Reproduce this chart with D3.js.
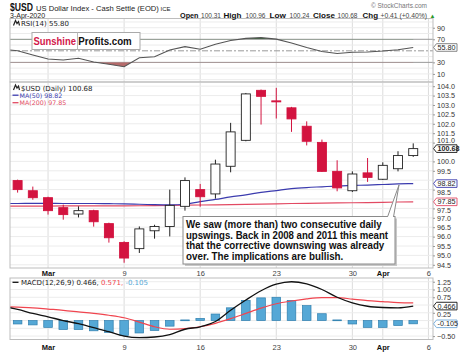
<!DOCTYPE html>
<html>
<head>
<meta charset="utf-8">
<script src="https://cdn.jsdelivr.net/npm/d3@7"></script>
<style>
  body { margin: 0; background: #fff; }
  svg text { font-family: "Liberation Sans", Arial, sans-serif; }
  .axis path { display: none; }
  .axis line { stroke: #999; }
  .axis text { font-size: 7.2px; fill: #333; }
  .legend { font-family: "DejaVu Sans", Verdana, sans-serif !important; }
</style>
</head>
<body>
<svg id="chart" width="467" height="353"></svg>
<script>
// trading days shown (Feb 26 only feeds the lines that run off the left edge)
const dates = ["2020-02-26", "2020-02-27", "2020-02-28", "2020-03-02", "2020-03-03", "2020-03-04",
  "2020-03-05", "2020-03-06", "2020-03-09", "2020-03-10", "2020-03-11", "2020-03-12", "2020-03-13",
  "2020-03-16", "2020-03-17", "2020-03-18", "2020-03-19", "2020-03-20", "2020-03-23", "2020-03-24",
  "2020-03-25", "2020-03-26", "2020-03-27", "2020-03-30", "2020-03-31", "2020-04-01", "2020-04-02",
  "2020-04-03"];

const open = [null, 98.98, 98.44, 98.07, 97.54, 97.20, 97.38, 96.69, 95.69, 95.36, 96.31, 96.54, 97.61,
  98.50, 98.27, 99.74, 101.12, 103.78, 103.22, 102.85, 101.87, 101.01, 99.47, 98.44, 99.39, 99.05, 99.61, 100.31];
const high = [null, 99.03, 98.66, 98.12, 97.70, 97.61, 97.43, 96.74, 95.75, 96.54, 96.63, 98.50, 99.15,
  98.80, 100.09, 102.05, 103.64, 103.82, 103.91, 102.90, 102.13, 101.16, 100.06, 99.47, 100.18, 99.95, 100.54, 100.96];
const low = [null, 98.34, 97.96, 97.17, 96.90, 97.02, 96.53, 95.68, 94.61, 95.13, 95.89, 96.01, 97.38,
  97.59, 98.02, 99.42, 101.07, 101.96, 102.28, 101.57, 100.85, 99.44, 98.41, 98.37, 98.91, 99.01, 99.47, 100.24];
const close = [null, 98.50, 98.07, 97.38, 97.17, 97.38, 96.79, 95.94, 94.86, 96.41, 96.54, 97.66, 98.98,
  98.12, 99.86, 101.57, 103.59, 103.46, 103.18, 102.26, 101.07, 99.47, 98.59, 99.33, 99.15, 99.79, 100.31, 100.68];

const ma50 = [97.76, 97.76, 97.77, 97.77, 97.76, 97.76, 97.76, 97.75, 97.74, 97.72, 97.70, 97.69, 97.72,
  97.86, 97.98, 98.11, 98.22, 98.35, 98.45, 98.55, 98.61, 98.65, 98.69, 98.72, 98.74, 98.77, 98.80, 98.82];
const ma200 = [97.62, 97.62, 97.62, 97.62, 97.63, 97.63, 97.63, 97.63, 97.63, 97.64, 97.65, 97.66, 97.67,
  97.68, 97.69, 97.70, 97.71, 97.73, 97.74, 97.76, 97.77, 97.78, 97.79, 97.80, 97.81, 97.82, 97.84, 97.85];

const rsi = [53.0, 50.1, 42.8, 35.9, 34.1, 37.1, 30.7, 26.7, 22.5, 38.1, 39.8, 51.5, 57.2,
  52.7, 61.3, 67.9, 71.5, 72.8, 70.2, 63.6, 55.8, 48.9, 45.4, 47.5, 48.0, 49.7, 52.0, 55.8];

const macd = [0.46, 0.36, 0.23, 0.12, 0.00, -0.10, -0.23, -0.36, -0.50, -0.55, -0.53, -0.45, -0.28,
  -0.20, -0.03, 0.33, 0.66, 0.96, 1.17, 1.25, 1.18, 1.00, 0.75, 0.57, 0.46, 0.42, 0.41, 0.466];
const signal = [0.45, 0.43, 0.41, 0.37, 0.33, 0.28, 0.23, 0.17, 0.09, -0.05, -0.20, -0.28, -0.26,
  -0.20, -0.09, 0.06, 0.23, 0.40, 0.54, 0.63, 0.70, 0.74, 0.74, 0.69, 0.64, 0.61, 0.58, 0.571];
const hist = [-0.05, -0.11, -0.14, -0.22, -0.29, -0.29, -0.33, -0.38, -0.48, -0.40, -0.32, -0.18, 0.02,
  0.07, 0.21, 0.41, 0.65, 0.73, 0.75, 0.65, 0.48, 0.22, 0.02, -0.11, -0.22, -0.22, -0.16, -0.105];

// x ticks: trading-day index (Apr 6 = next trading day after the data)
const xTickIdx = [3, 8, 13, 18, 23, 25, 28];
const xTickLabels = ["Mar", "9", "16", "23", "30", "Apr", "6"];
const priceTicks = [94.5, 95.0, 95.5, 96.0, 96.5, 97.0, 97.5, 98.0, 98.5, 99.0, 99.5, 100.0,
  100.5, 101.0, 101.5, 102.0, 102.5, 103.0, 103.5, 104.0];
const rsiTicks = [10, 30, 50, 70, 90];
const rsiGrid = [0, 10, 20, 40, 60, 80, 90, 100];
const macdTicks = [-0.5, -0.25, 0, 0.25, 0.5, 0.75, 1.0, 1.25];

const svg = d3.select("#chart"),
  left = 10, right = 433,
  red = "#d3133f", blueMa = "#3b3bae", redMa = "#e24a63";

const x = d3.scaleLinear().domain([0.5, 28.3]).range([left, right]);
const yRsi = d3.scaleLinear().domain([-4, 106]).range([82, 18.5]);
const yPrice = d3.scaleLinear().domain([94.33, 104.223]).range([268, 82]);
const yMacd = d3.scaleLinear().domain([-0.61, 1.37]).range([339.5, 278]);

const idx = dates.map((d, i) => i);
const last = idx.length - 1;

// tick labels that sit right under a value tag are hidden, as on the original
const freeTicks = (ticks, scale, tagVals) =>
  ticks.filter(t => tagVals.every(v => Math.abs(scale(t) - scale(v)) > 5.2));

// draw a right axis, pushing labels that graze a tag a little away from it
function rightAxis(scale, ticks, fmt, tagVals) {
  const ax = svg.append("g").attr("class", "axis").attr("transform", `translate(${right},0)`)
    .call(d3.axisRight(scale).tickValues(freeTicks(ticks, scale, tagVals)).tickFormat(fmt).tickSize(2).tickPadding(2));
  ax.selectAll("text").attr("y", t => {
    let shift = 0;
    tagVals.forEach(v => {
      const dist = scale(t) - scale(v);
      if (Math.abs(dist) < 9) shift += Math.sign(dist) * (9 - Math.abs(dist)) * 0.7;
    });
    return shift;
  });
}

function panel(id, top, bottom) {
  svg.append("clipPath").attr("id", id)
    .append("rect").attr("x", left).attr("y", top).attr("width", right - left).attr("height", bottom - top);
  const g = svg.append("g");
  g.selectAll(".vgrid").data(xTickIdx).enter().append("line")
    .attr("x1", d => x(d)).attr("x2", d => x(d))
    .attr("y1", top).attr("y2", bottom)
    .attr("stroke", "#dcdcdc");
  return g;
}

function frame(top, bottom) {
  svg.append("rect").attr("x", left).attr("y", top).attr("width", right - left).attr("height", bottom - top)
    .attr("fill", "none").attr("stroke", "#bdbdbd");
}

// ---------- RSI panel ----------
const gR = panel("clipR", 18.5, 82);
gR.selectAll(".hg").data(rsiGrid).enter().append("line")
  .attr("x1", left).attr("x2", right).attr("y1", d => yRsi(d)).attr("y2", d => yRsi(d))
  .attr("stroke", "#ececec");
[70, 30].forEach(v => gR.append("line").attr("x1", left).attr("x2", right)
  .attr("y1", yRsi(v)).attr("y2", yRsi(v)).attr("stroke", "#9a9a9a"));
gR.append("line").attr("x1", left).attr("x2", right).attr("y1", yRsi(50)).attr("y2", yRsi(50))
  .attr("stroke", "#9a9a9a").attr("stroke-dasharray", "6,2,2,2");

const rsiClip = svg.append("g").attr("clip-path", "url(#clipR)");
svg.append("clipPath").attr("id", "below30").append("rect")
  .attr("x", left).attr("y", yRsi(30)).attr("width", right - left).attr("height", 82 - yRsi(30));
svg.append("clipPath").attr("id", "above70").append("rect")
  .attr("x", left).attr("y", 18.5).attr("width", right - left).attr("height", yRsi(70) - 18.5);
rsiClip.append("g").attr("clip-path", "url(#below30)").append("path")
  .datum(idx)
  .attr("d", d3.area().x(i => x(i)).y0(yRsi(30)).y1(i => yRsi(rsi[i])))
  .attr("fill", "#b56a6a");
rsiClip.append("g").attr("clip-path", "url(#above70)").append("path")
  .datum(idx)
  .attr("d", d3.area().x(i => x(i)).y0(yRsi(70)).y1(i => yRsi(rsi[i])))
  .attr("fill", "#3f6e3f");
rsiClip.append("path").datum(idx)
  .attr("d", d3.line().x(i => x(i)).y(i => yRsi(rsi[i])))
  .attr("fill", "none").attr("stroke", "#555").attr("stroke-width", 1.1);
frame(18.5, 82);

rightAxis(yRsi, rsiTicks, d3.format("d"), [rsi[last]]);

// ---------- price panel ----------
const gP = panel("clipP", 82, 268);
gP.selectAll(".hg").data(priceTicks).enter().append("line")
  .attr("x1", left).attr("x2", right).attr("y1", d => yPrice(d)).attr("y2", d => yPrice(d))
  .attr("stroke", "#ececec");

const priceG = svg.append("g").attr("clip-path", "url(#clipP)");
priceG.append("path").datum(idx)
  .attr("d", d3.line().x(i => x(i)).y(i => yPrice(ma200[i])))
  .attr("fill", "none").attr("stroke", redMa).attr("stroke-width", 1.2);
priceG.append("path").datum(idx)
  .attr("d", d3.line().curve(d3.curveMonotoneX).x(i => x(i)).y(i => yPrice(ma50[i])))
  .attr("fill", "none").attr("stroke", blueMa).attr("stroke-width", 1.2);

const candles = idx.filter(i => open[i] !== null);
const bw = 9;
const cg = priceG.selectAll(".candle").data(candles).enter().append("g");
cg.append("line")
  .attr("x1", i => x(i)).attr("x2", i => x(i))
  .attr("y1", i => yPrice(high[i])).attr("y2", i => yPrice(low[i]))
  .attr("stroke", i => close[i] < open[i] ? red : "#222");
cg.append("rect")
  .attr("x", i => x(i) - bw / 2)
  .attr("width", bw)
  .attr("y", i => yPrice(Math.max(open[i], close[i])))
  .attr("height", i => Math.max(1, yPrice(Math.min(open[i], close[i])) - yPrice(Math.max(open[i], close[i]))))
  .attr("fill", i => close[i] < open[i] ? red : "#fff")
  .attr("stroke", i => close[i] < open[i] ? red : "#222")
  .attr("stroke-width", 0.9);
frame(82, 268);

rightAxis(yPrice, priceTicks, d3.format(".1f"), [close[last], ma50[last], ma200[last]]);

// ---------- MACD panel ----------
const gM = panel("clipM", 278, 339.5);
gM.selectAll(".hg").data(macdTicks).enter().append("line")
  .attr("x1", left).attr("x2", right).attr("y1", d => yMacd(d)).attr("y2", d => yMacd(d))
  .attr("stroke", "#ececec");
const macdG = svg.append("g").attr("clip-path", "url(#clipM)");
macdG.selectAll(".bar").data(idx).enter().append("rect")
  .attr("x", i => x(i) - 4.3)
  .attr("width", 8.6)
  .attr("y", i => yMacd(Math.max(0, hist[i])))
  .attr("height", i => Math.max(0.8, Math.abs(yMacd(hist[i]) - yMacd(0))))
  .attr("fill", "#55a8d6").attr("stroke", "#2f7fae").attr("stroke-width", 0.7);
macdG.append("path").datum(idx)
  .attr("d", d3.line().curve(d3.curveMonotoneX).x(i => x(i)).y(i => yMacd(signal[i])))
  .attr("fill", "none").attr("stroke", "#f0454f").attr("stroke-width", 1.2);
macdG.append("path").datum(idx)
  .attr("d", d3.line().curve(d3.curveMonotoneX).x(i => x(i)).y(i => yMacd(macd[i])))
  .attr("fill", "none").attr("stroke", "#111").attr("stroke-width", 1.3);
frame(278, 339.5);

rightAxis(yMacd, macdTicks, d3.format(".2f"), [macd[last], hist[last]]);

// ---------- x axes ----------
[[268, 2.3], [339.5, 5.3]].forEach(([yy, pad]) => {
  const ax = svg.append("g").attr("class", "axis").attr("transform", `translate(0,${yy})`)
    .call(d3.axisBottom(x).tickValues(xTickIdx).tickFormat((d, i) => xTickLabels[i]).tickSize(0).tickPadding(pad));
  ax.selectAll("text").style("font-size", "7.5px")
    .style("font-weight", d => d === 3 || d === 25 ? "bold" : "normal")
    .style("fill", d => d === 3 || d === 25 ? "#111" : "#444");
});

// ---------- value tags on right axis ----------
function tag(yy, txt, color, bold) {
  const g = svg.append("g");
  g.append("path")
    .attr("d", `M${right + 0.5},${yy} L${right + 3.5},${yy - 3.8} L${right + 24},${yy - 3.8} L${right + 24},${yy + 3.8} L${right + 3.5},${yy + 3.8} Z`)
    .attr("fill", "#fff").attr("stroke", color).attr("stroke-width", 0.9);
  g.append("text").attr("x", right + 4.5).attr("y", yy + 2.5)
    .style("font-size", "7.2px").style("font-weight", bold ? "bold" : "normal").style("fill", "#222")
    .text(txt);
}
tag(yRsi(rsi[last]), "55.80", "#777", false);
tag(yPrice(close[last]), "100.68", "#111", true);
tag(yPrice(ma50[last]), "98.82", blueMa, false);
tag(yPrice(ma200[last]), "97.85", redMa, false);
tag(yMacd(macd[last]), "0.466", "#111", false);
tag(yMacd(hist[last]), "-0.105", "#6fa8d8", false);

// ---------- header ----------
svg.append("text").attr("x", 10).attr("y", 10.5)
  .style("font-size", "10.5px").style("font-weight", "bold").style("fill", "#111")
  .attr("textLength", 23).attr("lengthAdjust", "spacingAndGlyphs").text("$USD");
svg.append("text").attr("x", 36).attr("y", 10.5).style("font-size", "7.6px").style("fill", "#222")
  .text("US Dollar Index - Cash Settle (EOD)")
  .append("tspan").style("font-size", "6px").text(" ICE");
svg.append("text").attr("x", 427).attr("y", 8).attr("text-anchor", "end")
  .style("font-size", "6.5px").style("fill", "#777").text("© StockCharts.com");
svg.append("text").attr("x", 10).attr("y", 17.5).style("font-size", "7px").style("fill", "#222").text("3-Apr-2020");

const hdr = [["Open", 180, 18.5, true], ["100.31", 201, 20, false], ["High", 223.5, 18, true], ["100.96", 245.5, 20, false],
  ["Low", 269.5, 16.5, true], ["100.24", 289.5, 20, false], ["Close", 313, 22, true], ["100.68", 337.5, 20, false],
  ["Chg", 362.5, 15.5, true], ["+0.41 (+0.40%)", 380.5, 46.5, false]];
svg.selectAll(".hdr").data(hdr).enter().append("text")
  .attr("x", d => d[1]).attr("y", 17.5)
  .attr("textLength", d => d[2]).attr("lengthAdjust", "spacingAndGlyphs")
  .style("font-size", d => d[3] ? "7.6px" : "7px")
  .style("font-weight", d => d[3] ? "bold" : "normal")
  .style("fill", d => d[3] ? "#111" : "#444")
  .text(d => d[0]);
svg.append("text").attr("x", 429.5).attr("y", 17.5).style("font-size", "6px").style("fill", "#2a9a2a").text("▲");

// ---------- panel legends ----------
function icon(xx, yy) {
  svg.append("path").attr("d", `M${xx},${yy + 5} L${xx + 2},${yy} L${xx + 3.5},${yy + 3} L${xx + 5},${yy + 1} L${xx + 6},${yy + 5}`)
    .attr("fill", "none").attr("stroke", "#222").attr("stroke-width", 1.2);
}
icon(13.5, 20.5);
svg.append("text").attr("class", "legend").attr("x", 21).attr("y", 26)
  .style("font-size", "7px").style("fill", "#222").text("RSI(14) 55.80");

icon(13.5, 85);
svg.append("text").attr("class", "legend").attr("x", 21).attr("y", 90.5)
  .style("font-size", "7px").style("fill", "#222").text("$USD (Daily) 100.68");
[["MA(50) 98.82", blueMa, 97.5], ["MA(200) 97.85", redMa, 105]].forEach(([t, c, yy]) => {
  svg.append("line").attr("x1", 12.5).attr("x2", 18.5).attr("y1", yy - 2.3).attr("y2", yy - 2.3)
    .attr("stroke", c).attr("stroke-width", 1.3);
  svg.append("text").attr("class", "legend").attr("x", 19.5).attr("y", yy)
    .style("font-size", "6.3px").style("fill", c).text(t);
});

svg.append("line").attr("x1", 12.5).attr("x2", 18.5).attr("y1", 282.3).attr("y2", 282.3)
  .attr("stroke", "#111").attr("stroke-width", 1.3);
const ml = svg.append("text").attr("class", "legend").attr("x", 21).attr("y", 284.8).style("font-size", "7px");
ml.append("tspan").style("fill", "#222").text("MACD(12,26,9) 0.466, ");
ml.append("tspan").style("fill", "#f0454f").text("0.571, ");
ml.append("tspan").style("fill", "#55a8d6").text("-0.105");

// ---------- Sunshine Profits logo ----------
svg.append("rect").attr("x", 32).attr("y", 32.5).attr("width", 108).attr("height", 17)
  .attr("fill", "#fff").attr("stroke", "#aaa");
svg.append("line").attr("x1", 77.5).attr("x2", 77.5).attr("y1", 32.5).attr("y2", 49.5).attr("stroke", "#bbb");
svg.append("text").attr("x", 33.5).attr("y", 44.5).style("font-size", "11px").style("font-weight", "bold")
  .style("fill", "#d3174a").attr("textLength", 42.5).attr("lengthAdjust", "spacingAndGlyphs").text("Sunshine");
svg.append("text").attr("x", 78.3).attr("y", 44.5).style("font-size", "11px").style("font-weight", "bold")
  .style("fill", "#111").attr("textLength", 53.4).attr("lengthAdjust", "spacingAndGlyphs").text("Profits.com");

// ---------- annotation ----------
const note = ["We saw (more than) two consecutive daily",
  "upswings. Back in 2008 and 2011 this meant",
  "that the corrective downswing was already",
  "over. The implications are bullish."];
const noteW = [195.7, 202, 198.3, 157.3];
svg.append("rect").attr("x", 185).attr("y", 218.5).attr("width", 212).attr("height", 47.5).attr("fill", "#c8c8c8");
svg.append("rect").attr("x", 183).attr("y", 216.5).attr("width", 212).attr("height", 47.5)
  .attr("fill", "#fff").attr("stroke", "#8a8a8a");
svg.append("path").attr("d", `M387.5,217 L${x(26) + 1},${yPrice(ma50[26]) + 1} L393.5,217`)
  .attr("fill", "#fff").attr("stroke", "#8a8a8a");
svg.append("line").attr("x1", 388).attr("x2", 393).attr("y1", 217).attr("y2", 217).attr("stroke", "#fff").attr("stroke-width", 1.2);
svg.selectAll(".note").data(note).enter().append("text")
  .attr("x", 186).attr("y", (d, i) => 228 + i * 10.7)
  .attr("textLength", (d, i) => noteW[i]).attr("lengthAdjust", "spacingAndGlyphs")
  .style("font-size", "10px").style("font-weight", "bold").style("fill", "#111")
  .text(d => d);
</script>
</body>
</html>
